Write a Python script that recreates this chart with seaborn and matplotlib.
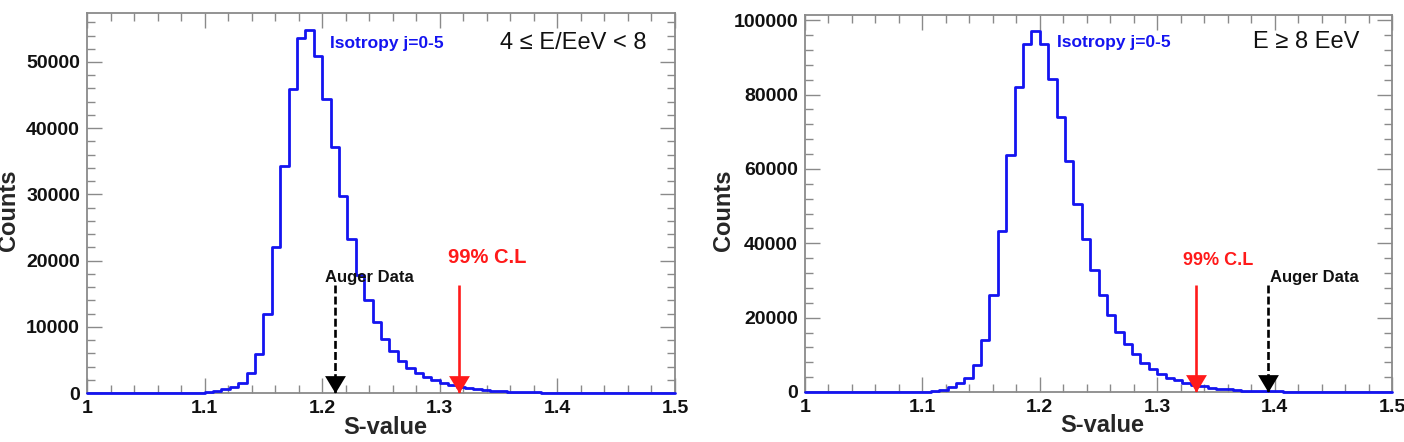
import numpy as np
import pandas as pd
import matplotlib
matplotlib.use("Agg")
import matplotlib.pyplot as plt
from matplotlib.path import Path
from matplotlib.ticker import MultipleLocator, FuncFormatter
import seaborn as sns

# ---------------- data ----------------
s_min, s_max, n_bins = 1.0, 1.5, 70

counts_low = [0, 0, 0, 0, 0, 0, 0, 0, 0, 0, 5, 10, 20,
              40, 100, 250, 560, 950, 1550, 3070, 5900, 11900, 22100,
              34300, 45900, 53600, 54800, 50900, 44400, 37100, 29800, 23200, 17800,
              14000, 10700, 8150, 6360, 4850, 3780, 3000, 2400, 1900, 1500,
              1150, 900, 700, 540, 400, 300, 230, 170, 130, 100,
              80, 60, 45, 35, 25, 20, 15, 10, 8, 6,
              5, 4, 3, 2, 1, 1, 0]

counts_high = [0, 0, 0, 0, 0, 0, 0, 0, 0, 0, 0, 0, 10, 40,
               80, 250, 600, 1250, 2500, 3900, 7200, 13900, 26000, 43200,
               63800, 82100, 93700, 97100, 93500, 84200, 73900, 62100, 50700, 41100,
               32800, 26100, 20600, 16200, 12800, 10100, 7850, 6100, 4800, 3800,
               3100, 2450, 1950, 1500, 1150, 880, 680, 520, 400, 300,
               230, 175, 135, 100, 80, 60, 45, 35, 25, 20,
               15, 10, 8, 6, 4, 3]

auger_low, cl99_low, arrow_top_low = 1.211, 1.316, 16300
auger_high, cl99_high, arrow_top_high = 1.394, 1.333, 28800

ymax_low, ymax_high = 57400, 101400
title_low = "4 \u2264 E/EeV < 8"
title_high = "E \u2265 8 EeV"
iso_label = "Isotropy j=0-5"

# ---------------- style ----------------
sns.set_style("ticks")
plt.rcParams["font.family"] = ["Liberation Sans", "DejaVu Sans"]
plt.rcParams["font.weight"] = "bold"

blue = "#1414f0"
gray = "#8a8a8a"

edges = np.linspace(s_min, s_max, n_bins + 1)
centers = 0.5 * (edges[:-1] + edges[1:])

head_path = Path([(-0.6, 1.0), (0.6, 1.0), (0.0, 0.0), (-0.6, 1.0)],
                 [Path.MOVETO, Path.LINETO, Path.LINETO, Path.CLOSEPOLY])

fig = plt.figure(figsize=(14.04, 4.42), dpi=100)
ax1 = fig.add_axes([87 / 1404, 1 - 393 / 442, 588 / 1404, 380 / 442])
ax2 = fig.add_axes([805 / 1404, 1 - 392 / 442, 587 / 1404, 377 / 442])


def draw_arrow(ax, x, ytop, color, dashed):
    ls = (0, (3, 1.2)) if dashed else "solid"
    ax.plot([x, x], [ytop, 0], color=color, lw=1.9, ls=ls, zorder=4,
            solid_capstyle="butt")
    ax.plot([x], [0], marker=head_path, markersize=25, color=color,
            markeredgewidth=0, clip_on=False, zorder=5)


def style_axes(ax, ymax, ymaj, ymin):
    ax.set_xlim(s_min, s_max)
    ax.set_ylim(0, ymax)
    ax.xaxis.set_major_locator(MultipleLocator(0.1))
    ax.xaxis.set_minor_locator(MultipleLocator(0.02))
    ax.yaxis.set_major_locator(MultipleLocator(ymaj))
    ax.yaxis.set_minor_locator(MultipleLocator(ymin))
    ax.xaxis.set_major_formatter(FuncFormatter(lambda v, p: "%g" % round(v, 3)))
    ax.yaxis.set_major_formatter(FuncFormatter(lambda v, p: "%d" % round(v)))
    for sp in ax.spines.values():
        sp.set_visible(True)
        sp.set_color(gray)
        sp.set_linewidth(1.3)
    ax.tick_params(which="both", direction="in", top=True, right=True,
                   color=gray, width=1.0, labelsize=14, labelcolor="#111111")
    ax.tick_params(which="major", length=11)
    ax.tick_params(which="minor", length=5.5)
    ax.tick_params(axis="x", pad=5)
    ax.tick_params(axis="y", pad=5)
    ax.set_xlabel("S-value", fontsize=17, fontweight="bold")
    ax.set_ylabel("Counts", fontsize=17, fontweight="bold")
    ax.xaxis.set_label_coords(0.507, -0.09)
    ax.xaxis.label.set_verticalalignment("center")


for ax, counts, ymax, ymaj, ymin in [
    (ax1, counts_low, ymax_low, 10000, 2000),
    (ax2, counts_high, ymax_high, 20000, 4000),
]:
    df = pd.DataFrame({"S": centers, "N": np.asarray(counts, dtype=float)})
    sns.histplot(data=df, x="S", weights="N", bins=n_bins,
                 binrange=(s_min, s_max), element="step",
                 fill=False, color=blue, linewidth=2.0, ax=ax, zorder=3)
    for art in list(ax.lines) + list(ax.patches) + list(ax.collections):
        art.set_clip_on(False)
    style_axes(ax, ymax, ymaj, ymin)

ax1.yaxis.set_label_coords(-0.133, 0.48)
ax1.yaxis.label.set_verticalalignment("center")
ax2.yaxis.set_label_coords(-0.138, 0.483)
ax2.yaxis.label.set_verticalalignment("center")

# ---- left panel annotations ----
draw_arrow(ax1, auger_low, arrow_top_low, "black", True)
draw_arrow(ax1, cl99_low, arrow_top_low, "#ff1a1a", False)
ax1.text(1.2024, 17500, "Auger Data", fontsize=12, fontweight="bold",
         color="#111111", ha="left", va="center")
ax1.text(1.340, 20400, "99% C.L", fontsize=14.5, fontweight="bold",
         color="#ff1a1a", ha="center", va="center")
ax1.text(0.413, 0.921, iso_label, transform=ax1.transAxes, fontsize=12.5,
         fontweight="bold", color=blue, ha="left", va="center")
ax1.text(0.952, 0.921, title_low, transform=ax1.transAxes, fontsize=17,
         fontweight="normal", color="#111111", ha="right", va="center")

# ---- right panel annotations ----
draw_arrow(ax2, auger_high, arrow_top_high, "black", True)
draw_arrow(ax2, cl99_high, arrow_top_high, "#ff1a1a", False)
ax2.text(1.396, 30900, "Auger Data", fontsize=12, fontweight="bold",
         color="#111111", ha="left", va="center")
ax2.text(1.352, 35500, "99% C.L", fontsize=13, fontweight="bold",
         color="#ff1a1a", ha="center", va="center")
ax2.text(0.429, 0.926, iso_label, transform=ax2.transAxes, fontsize=12.5,
         fontweight="bold", color=blue, ha="left", va="center")
ax2.text(0.945, 0.928, title_high, transform=ax2.transAxes, fontsize=17,
         fontweight="normal", color="#111111", ha="right", va="center")

fig.savefig("out.png", dpi=100)
